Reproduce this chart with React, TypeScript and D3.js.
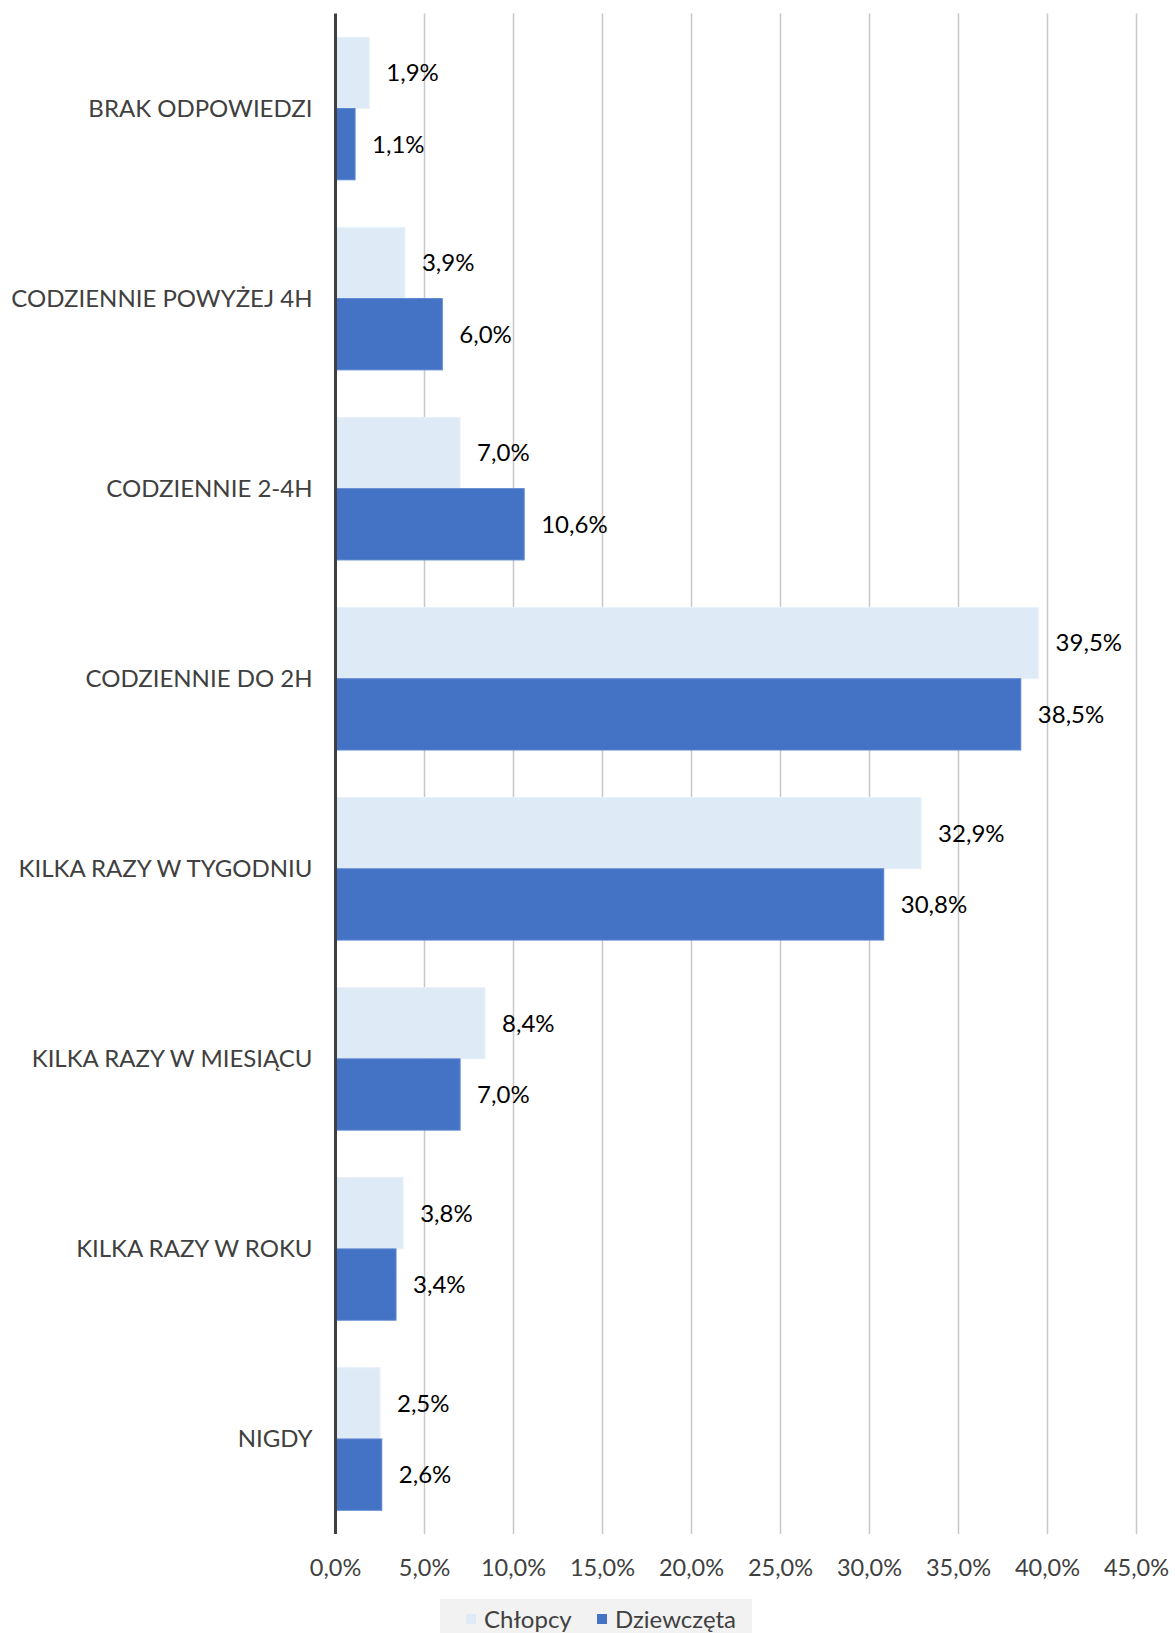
import React from "react";
import * as d3 from "d3";

const categories = [
  "BRAK ODPOWIEDZI",
  "CODZIENNIE POWYŻEJ 4H",
  "CODZIENNIE 2-4H",
  "CODZIENNIE DO 2H",
  "KILKA RAZY W TYGODNIU",
  "KILKA RAZY W MIESIĄCU",
  "KILKA RAZY W ROKU",
  "NIGDY",
];
const chlopcy = [1.9, 3.9, 7.0, 39.5, 32.9, 8.4, 3.8, 2.5];
const dziewczeta = [1.1, 6.0, 10.6, 38.5, 30.8, 7.0, 3.4, 2.6];
const seriesNames = ["Chłopcy", "Dziewczęta"];
const ticks = [0, 5, 10, 15, 20, 25, 30, 35, 40, 45];

const W = 1175;
const H = 1633;
const FONT = "Lato, 'Open Sans', sans-serif";
const colors = ["#DEEAF6", "#4472C4"];

const fmt = (v: number) => v.toFixed(1).replace(".", ",") + "%";

export default function App() {
  const x = d3.scaleLinear().domain([0, 45]).range([335.5, 1136.5]);
  const y = d3
    .scaleBand<string>()
    .domain(categories)
    .range([13.5, 1534])
    .paddingInner(0.25)
    .paddingOuter(0.125);
  const bw = y.bandwidth() / 2;
  const series = [chlopcy, dziewczeta];

  return (
    <svg
      width={W}
      height={H}
      style={{ position: "absolute", left: 0, top: 0, background: "#fff" }}
      fontFamily={FONT}
    >
      {ticks.slice(1).map((t) => (
        <line
          key={t}
          x1={x(t)}
          x2={x(t)}
          y1={13.5}
          y2={1534}
          stroke="#c8c8c8"
          strokeWidth={1.5}
        />
      ))}
      {categories.map((c, i) => (
        <g key={c}>
          {series.map((s, k) => {
            const yy = (y(c) as number) + k * bw;
            return (
              <g key={k}>
                <rect
                  x={x(0)}
                  y={yy}
                  width={x(s[i]) - x(0)}
                  height={bw}
                  fill={colors[k]}
                  stroke={k === 0 ? "#EAF1FA" : "#5B86D0"}
                  strokeWidth={1}
                />
                <text
                  x={x(s[i]) + 17}
                  y={yy + bw / 2}
                  dy="0.35em"
                  fontSize={24}
                  fill="#000"
                >
                  {fmt(s[i])}
                </text>
              </g>
            );
          })}
          <text
            x={312.5}
            y={(y(c) as number) + y.bandwidth() / 2}
            dy="0.35em"
            textAnchor="end"
            fontSize={24}
            fill="#404040"
          >
            {c}
          </text>
        </g>
      ))}
      <line x1={x(0)} x2={x(0)} y1={13.5} y2={1534} stroke="#404040" strokeWidth={3} />
      {ticks.map((t) => (
        <text
          key={t}
          x={x(t)}
          y={1568}
          dy="0.35em"
          textAnchor="middle"
          fontSize={23.5}
          fill="#404040"
        >
          {fmt(t)}
        </text>
      ))}
      <rect x={440} y={1599} width={312} height={34} fill="#F2F2F2" />
      <rect x={466} y={1614} width={10} height={10} fill={colors[0]} />
      <text x={484} y={1620} dy="0.35em" fontSize={24} fill="#404040">
        {seriesNames[0]}
      </text>
      <rect x={597} y={1614} width={10} height={10} fill={colors[1]} />
      <text x={615} y={1620} dy="0.35em" fontSize={24} fill="#404040">
        {seriesNames[1]}
      </text>
    </svg>
  );
}
